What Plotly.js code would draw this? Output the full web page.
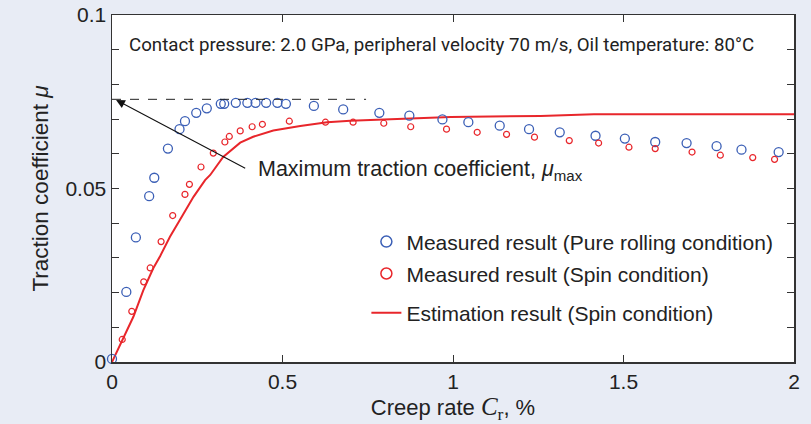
<!DOCTYPE html>
<html>
<head>
<meta charset="utf-8">
<script src="https://cdn.plot.ly/plotly-3.0.1.min.js"></script>
<style>
html,body{margin:0;padding:0;background:#e8ecf5;}
#chart{width:811px;height:424px;}
</style>
</head>
<body>
<div id="chart"></div>
<script>
// Measured result (Pure rolling condition)
const rollX = [0, 0.042, 0.070, 0.109, 0.124, 0.164, 0.198, 0.214, 0.247, 0.278, 0.319, 0.329, 0.363, 0.397, 0.421, 0.452, 0.485, 0.510, 0.592, 0.678, 0.784, 0.872, 0.969, 1.045, 1.137, 1.223, 1.313, 1.418, 1.504, 1.593, 1.685, 1.773, 1.846, 1.955];
const rollY = [0.0009, 0.0202, 0.0359, 0.0478, 0.0531, 0.0615, 0.0671, 0.0694, 0.0718, 0.0731, 0.0744, 0.0744, 0.0747, 0.0747, 0.0747, 0.0747, 0.0747, 0.0744, 0.0738, 0.0728, 0.0718, 0.0710, 0.0699, 0.0691, 0.0681, 0.0671, 0.0662, 0.0652, 0.0644, 0.0634, 0.0631, 0.0622, 0.0612, 0.0605];

// Measured result (Spin condition)
const spinX = [0.030, 0.058, 0.093, 0.112, 0.144, 0.178, 0.214, 0.227, 0.261, 0.297, 0.331, 0.344, 0.376, 0.411, 0.441, 0.520, 0.626, 0.707, 0.797, 0.876, 0.981, 1.071, 1.157, 1.239, 1.341, 1.427, 1.516, 1.593, 1.701, 1.784, 1.879, 1.943];
const spinY = [0.0065, 0.0146, 0.0231, 0.0271, 0.0347, 0.0422, 0.0483, 0.0512, 0.0562, 0.0602, 0.0634, 0.0650, 0.0666, 0.0678, 0.0685, 0.0694, 0.0691, 0.0691, 0.0688, 0.0678, 0.0671, 0.0662, 0.0656, 0.0648, 0.0638, 0.0631, 0.0619, 0.0615, 0.0605, 0.0596, 0.0589, 0.0584];

// Estimation result (Spin condition)
const estX = [0, 0.033, 0.063, 0.092, 0.121, 0.141, 0.170, 0.205, 0.239, 0.273, 0.288, 0.326, 0.376, 0.414, 0.473, 0.552, 0.631, 0.699, 0.846, 0.993, 1.257, 1.413, 2.0];
const estY = [0, 0.0068, 0.0131, 0.0207, 0.0270, 0.0305, 0.0361, 0.0419, 0.0476, 0.0524, 0.0539, 0.0591, 0.0632, 0.0649, 0.0667, 0.0680, 0.0691, 0.0695, 0.0700, 0.0706, 0.0709, 0.0714, 0.0714];

// Maximum traction coefficient level
const muMax = 0.0757;
const muMaxEndX = 0.745;

const xTickVals = [0, 0.5, 1, 1.5, 2];
const xTickText = ['0', '0.5', '1', '1.5', '2'];
const yTickVals = [0, 0.05, 0.1];
const yTickText = ['0', '0.05', '0.1'];

const seriesNames = ['Measured result (Pure rolling condition)', 'Measured result (Spin condition)', 'Estimation result (Spin condition)'];
const conditionText = 'Contact pressure: 2.0 GPa, peripheral velocity 70 m/s, Oil temperature: 80°C';
const maxLabel = 'Maximum traction coefficient, <i>μ</i><sub>max</sub>';

const BLUE = '#3b5fb6';
const RED = '#e8262b';
const FONT = 'Liberation Sans, Arial, sans-serif';

const traces = [
  {x: estX, y: estY, type: 'scatter', mode: 'lines', line: {color: RED, width: 2}, showlegend: false, hoverinfo: 'skip'},
  {x: rollX, y: rollY, type: 'scatter', mode: 'markers', marker: {symbol: 'circle-open', size: 9, color: BLUE, line: {width: 1.3}}, showlegend: false, cliponaxis: false},
  {x: spinX, y: spinY, type: 'scatter', mode: 'markers', marker: {symbol: 'circle-open', size: 6, color: RED, line: {width: 1.2}}, showlegend: false, cliponaxis: false},
  // legend entries
  {x: [null], y: [null], type: 'scatter', mode: 'markers', name: seriesNames[0], marker: {symbol: 'circle-open', size: 11, color: BLUE, line: {width: 1.5}}, legend: 'legend'},
  {x: [null], y: [null], type: 'scatter', mode: 'markers', name: seriesNames[1], marker: {symbol: 'circle-open', size: 11, color: RED, line: {width: 1.5}}, legend: 'legend2'},
  {x: [null], y: [null], type: 'scatter', mode: 'lines', name: seriesNames[2], line: {color: RED, width: 2}, legend: 'legend3'}
];

const legendBase = {x: 0.373, xanchor: 'left', yanchor: 'middle', bgcolor: 'rgba(0,0,0,0)', font: {family: FONT, size: 21, color: '#222'}};

const layout = {
  width: 811, height: 424,
  paper_bgcolor: '#e8ecf5',
  plot_bgcolor: '#ffffff',
  margin: {l: 112, r: 17, t: 15, b: 62},
  font: {family: FONT, size: 21, color: '#222'},
  showlegend: true,
  legend: Object.assign({}, legendBase, {y: 0.346}),
  legend2: Object.assign({}, legendBase, {y: 0.254}),
  legend3: Object.assign({}, legendBase, {y: 0.141}),
  xaxis: {
    range: [0, 2], tickvals: xTickVals, ticktext: xTickText,
    ticks: 'inside', ticklen: 7, tickcolor: '#333', tickwidth: 1,
    showline: true, linecolor: '#333', linewidth: 1.5, mirror: 'ticks',
    showgrid: false, zeroline: false,
    tickfont: {family: FONT, size: 21, color: '#222'},
    title: {text: 'Creep rate <span style="font-family:Liberation Serif;font-size:25px"><i>C</i><sub>r</sub></span>, %', font: {family: FONT, size: 22, color: '#222'}, standoff: 6}
  },
  yaxis: {
    range: [0, 0.1], tickvals: yTickVals, ticktext: yTickText,
    ticks: 'inside', ticklen: 7, tickcolor: '#333', tickwidth: 1,
    minor: {dtick: 0.01, tick0: 0, ticks: 'inside', ticklen: 7, tickcolor: '#333', tickwidth: 1, showgrid: false},
    showline: true, linecolor: '#333', linewidth: 1.5, mirror: 'ticks',
    showgrid: false, zeroline: false,
    tickfont: {family: FONT, size: 21, color: '#222'},
    title: {text: 'Traction coefficient <i>μ</i>', font: {family: FONT, size: 22.5, color: '#222'}, standoff: 10}
  },
  shapes: [
    {type: 'line', xref: 'x', yref: 'y', x0: 0, x1: muMaxEndX, y0: muMax, y1: muMax, line: {color: '#222', width: 1, dash: 'dash'}}
  ],
  annotations: [
    {xref: 'paper', yref: 'paper', x: 0.022, y: 0.913, xanchor: 'left', yanchor: 'middle', showarrow: false,
     text: conditionText, font: {family: 'Roboto, sans-serif', size: 18.7, color: '#222'}},
    {xref: 'x', yref: 'y', x: 0.421, y: 0.0553, xanchor: 'left', yanchor: 'middle', showarrow: false,
     text: maxLabel, font: {family: FONT, size: 21.5, color: '#222'}},
    {xref: 'x', yref: 'y', axref: 'x', ayref: 'y', x: 0.012, y: 0.0755, ax: 0.395, ay: 0.0556, text: '',
     showarrow: true, arrowhead: 2, arrowsize: 1.6, arrowwidth: 1.1, arrowcolor: '#111'}
  ]
};

Plotly.newPlot('chart', traces, layout, {displayModeBar: false, staticPlot: true});
</script>
</body>
</html>
